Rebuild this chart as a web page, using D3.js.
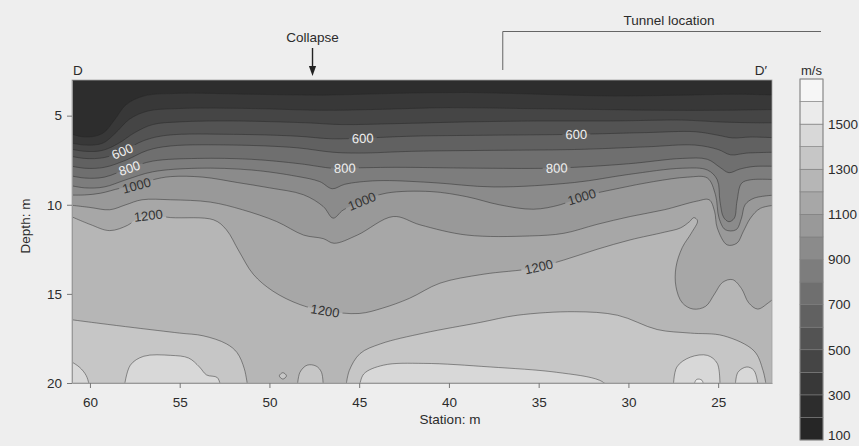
<!DOCTYPE html>
<html>
<head>
<meta charset="utf-8">
<script src="https://cdn.jsdelivr.net/npm/d3@7"></script>
<style>
  body { margin: 0; background: #eeeeee; }
  text { font-family: "Liberation Sans", Arial, sans-serif; fill: #2b2b2b; }
</style>
</head>
<body>
<div id="vis"></div>
<script>
const width = 859;
const height = 446;

// axes
const stationDomain = [61, 22];
const depthDomain = [3, 20];
const stationTicks = [60, 55, 50, 45, 40, 35, 30, 25];
const depthTicks = [5, 10, 15, 20];

// colour bar (m/s)
const barLevels = d3.range(100, 1700, 100);
const barTicks = [100, 300, 500, 700, 900, 1100, 1300, 1500];
const bandColors = ["#262626", "#2d2d2d", "#383838", "#454545", "#535353", "#616161", "#6f6f6f", "#7d7d7d",
                    "#8b8b8b", "#999999", "#a7a7a7", "#b6b6b6", "#c6c6c6", "#d8d8d8", "#ebebeb", "#f6f6f6"];

const c300 = [[61.4, 5.9], [60.3, 6.2], [59.3, 6.0], [58.6, 5.2], [58, 4.4], [57, 3.9], [55, 3.75], [51, 3.8], [47, 3.85], [43, 3.75], [39, 3.7], [35, 3.8], [31, 3.9], [27, 3.85], [24, 3.8], [21.6, 3.85]];
const c400 = [[61.4, 6.45], [60.3, 6.65], [59.3, 6.55], [58.6, 6.0], [57.8, 5.2], [56.8, 4.75], [55, 4.6], [51, 4.6], [47, 4.7], [44, 4.65], [40, 4.55], [36, 4.6], [32, 4.65], [28, 4.7], [25, 4.7], [21.6, 4.65]];
const c500 = [[61.4, 6.8], [60.3, 7.0], [59.3, 6.95], [58.4, 6.55], [57.5, 5.95], [56.5, 5.5], [55, 5.35], [52, 5.3], [48, 5.4], [46, 5.5], [43, 5.45], [39, 5.35], [35, 5.3], [31, 5.3], [27, 5.25], [25, 5.35], [23, 5.4], [21.6, 5.4]];
const c600 = [[61.4, 7.2], [60.3, 7.4], [59.2, 7.35], [58.2, 7.0], [57, 6.4], [55.7, 6.1], [52, 6.05], [48.5, 6.15], [46.5, 6.3], [44.8, 6.26], [42, 6.15], [38, 6.1], [33, 6.05], [29, 5.95], [26.3, 5.9], [25, 6.1], [24.2, 6.25], [23.2, 6.2], [21.6, 6.25]];
const c700 = [[61.4, 7.75], [60.3, 7.95], [59.2, 7.9], [58, 7.5], [56.8, 6.95], [55.5, 6.7], [52, 6.65], [48.5, 6.8], [46.5, 7.05], [45, 7.1], [42, 7.0], [38, 6.95], [33, 6.9], [29, 6.75], [26.3, 6.65], [25, 6.9], [24.3, 7.2], [23.4, 7.1], [21.6, 7.05]];
const c800 = [[61.4, 8.3], [60.3, 8.5], [59.2, 8.45], [57.8, 7.94], [56.5, 7.55], [54, 7.4], [51, 7.45], [48.3, 7.7], [46.5, 7.95], [45.8, 7.94], [43, 7.9], [38, 7.95], [34, 7.94], [30, 7.7], [27, 7.4], [25.6, 7.45], [24.9, 7.9], [24.4, 8.2], [23.8, 8.0], [23, 7.85], [21.6, 7.85]];
const c900 = [[61.4, 8.85], [60.3, 9.05], [59.2, 9.0], [58, 8.6], [56.5, 8.15], [54, 7.95], [51, 8.05], [48.5, 8.4], [47.2, 8.7], [46.5, 9.1], [45.8, 8.85], [44, 8.65], [41, 8.75], [37.5, 9.0], [33, 8.75], [30, 8.3], [27, 7.95], [25.6, 8.05], [25.05, 8.6], [24.9, 9.8], [24.7, 10.7], [24.4, 10.95], [24.1, 10.75], [23.95, 9.8], [23.7, 8.8], [23.2, 8.6], [21.6, 8.6]];
const c1000 = [[61.4, 9.45], [60.3, 9.45], [59.4, 9.35], [58.3, 9.07], [57.5, 8.95], [56.5, 8.6], [55.5, 8.42], [53.7, 8.45], [51.8, 8.75], [50, 9.05], [48.1, 9.44], [47.0, 10.1], [46.45, 10.75], [45.9, 10.3], [44.85, 9.8], [43.5, 9.35], [41, 9.26], [39, 9.55], [37.2, 10.0], [35.3, 10.25], [33.8, 10.0], [32.6, 9.55], [30.5, 9.07], [28.6, 8.7], [26.7, 8.45], [25.6, 8.5], [25.15, 9.44], [24.95, 10.75], [24.6, 11.4], [24.0, 11.4], [23.7, 10.75], [23.5, 10.0], [23.0, 9.63], [21.6, 9.44]];
const c1100 = [[61.4, 9.98], [60.0, 10.15], [58.9, 10.28], [58.0, 10.0], [57.1, 9.72], [55.5, 9.72], [53.3, 9.85], [51.5, 10.28], [49.6, 10.94], [48.1, 11.7], [47.0, 11.9], [46.4, 12.16], [45.1, 11.7], [43.1, 10.66], [41.6, 11.13], [39.0, 11.7], [35.5, 11.75], [33.6, 11.6], [31.75, 11.1], [29.9, 10.66], [28.0, 10.28], [26.2, 9.8], [25.5, 9.72], [25.2, 10.37], [25.05, 11.3], [24.5, 12.25], [23.95, 12.15], [23.6, 11.5], [23.2, 10.75], [22.65, 10.2], [21.6, 10.0]];
const c1200 = [[61.4, 10.5], [60.0, 11.1], [58.9, 11.45], [57.9, 11.15], [57.4, 10.8], [56.75, 10.6], [55.5, 10.72], [53.1, 10.85], [52.4, 11.4], [51.7, 12.6], [50.9, 13.9], [49.8, 14.85], [48.3, 15.6], [46.9, 15.95], [45.0, 16.1], [43.7, 15.8], [42.2, 15.25], [40.5, 14.4], [38.1, 13.9], [35.3, 13.56], [33.6, 13.1], [31.75, 12.5], [29.9, 11.97], [28.0, 11.54], [27.1, 11.3], [26.6, 10.95], [26.35, 10.72], [26.15, 10.9], [26.5, 11.6], [27.0, 12.4], [27.35, 13.5], [27.35, 14.6], [27.0, 15.5], [26.4, 15.85], [25.7, 15.7], [25.2, 15.0], [24.75, 14.35], [24.2, 14.2], [23.7, 14.7], [23.3, 15.5], [22.8, 15.85], [22.2, 15.5], [21.6, 15.0]];
const c1300_left = [[61.4, 16.4], [59.5, 16.65], [57.5, 16.9], [55, 17.2], [53.7, 17.35], [52.4, 17.8], [51.8, 18.3], [51.4, 19.2], [51.2, 20.3]];
const c1300_patch = [[48.45, 20.3], [48.3, 19.4], [47.9, 19.0], [47.4, 19.05], [47.1, 19.4], [47.0, 20.3]];
const c1300_spot = [[49.45, 19.6], [49.25, 19.42], [49.05, 19.6], [49.25, 19.78]];
const c1300_right = [[45.75, 20.3], [45.55, 19.3], [44.95, 18.35], [43.8, 17.8], [41.4, 17.2], [38.25, 16.6], [36.2, 16.2], [33, 16.0], [30.6, 16.2], [28.4, 17.0], [26.55, 17.2], [24.7, 17.35], [23.0, 18.2], [22.5, 19.3], [22.3, 20.3]];
const c1400_corner = [[61.4, 18.6], [60.6, 19.1], [60.2, 19.6], [60.0, 20.3]];
const c1400_a = [[58.1, 20.3], [57.75, 19.0], [57.0, 18.5], [55.5, 18.45], [54.5, 18.6], [53.9, 19.1], [53.5, 19.55], [52.9, 19.7], [52.7, 20.3]];
const c1400_b = [[45.0, 20.3], [44.75, 19.5], [43.65, 19.0], [41.4, 18.9], [37.7, 19.1], [34.0, 19.4], [31.6, 19.85], [31.0, 20.3]];
const c1400_c = [[27.5, 20.3], [27.3, 19.1], [26.55, 18.55], [25.6, 18.45], [25.05, 18.9], [24.9, 20.3]];
const c1400_d = [[24.05, 20.3], [23.9, 19.4], [23.4, 19.1], [23.0, 19.3], [22.75, 20.3]];
const c1500 = [[26.4, 20.3], [26.2, 19.8], [25.9, 19.85], [25.8, 20.3]];

// inline labels: [level, station]
const contourLabels = [[600, 58.2], [800, 57.8], [1000, 57.4], [1200, 56.75],
                       [600, 44.8], [800, 45.8], [1000, 44.85],
                       [600, 32.9], [800, 34.0], [1000, 32.6],
                       [1200, 46.9], [1200, 35.0]];

const collapseStation = 47.6;
const tunnelStart = 37;

window.onload = function () {
  svg = d3.select("#vis").append("svg")
    .attr("width", width)
    .attr("height", height);

  drawSection();
  drawAxes();
  drawColorBar();
  drawNotes();
};

const x = d3.scaleLinear().domain(stationDomain).range([72, 772]);
const y = d3.scaleLinear().domain(depthDomain).range([80, 383]);

const contours = [
  [300, c300], [400, c400], [500, c500], [600, c600], [700, c700], [800, c800],
  [900, c900], [1000, c1000], [1100, c1100], [1200, c1200],
  [1300, c1300_left], [1300, c1300_patch], [1300, c1300_right], [1300, c1300_spot, true],
  [1400, c1400_corner], [1400, c1400_a], [1400, c1400_b], [1400, c1400_c], [1400, c1400_d],
  [1500, c1500]
];

function bandColor(level) {
  return bandColors[(level - 100) / 100];
}

function depthAt(pts, s) {
  for (let i = 0; i < pts.length - 1; i++) {
    const a = pts[i], b = pts[i + 1];
    if ((s - a[0]) * (s - b[0]) <= 0) {
      const t = (s - a[0]) / (b[0] - a[0]);
      return a[1] + t * (b[1] - a[1]);
    }
  }
  return null;
}

function drawSection() {
  const line = d3.line().x(p => x(p[0])).y(p => y(p[1])).curve(d3.curveCatmullRom.alpha(0.5));
  const ring = d3.line().x(p => x(p[0])).y(p => y(p[1])).curve(d3.curveCatmullRomClosed.alpha(0.5));
  const below = y(21);

  const defs = svg.append("defs");
  defs.append("clipPath").attr("id", "plotClip")
    .append("rect")
    .attr("x", x.range()[0]).attr("y", y.range()[0])
    .attr("width", x.range()[1] - x.range()[0])
    .attr("height", y.range()[1] - y.range()[0]);

  const plot = svg.append("g").attr("clip-path", "url(#plotClip)");

  plot.append("rect")
    .attr("x", x.range()[0]).attr("y", y.range()[0])
    .attr("width", x.range()[1] - x.range()[0])
    .attr("height", y.range()[1] - y.range()[0])
    .attr("fill", bandColors[1]);

  // filled bands: each region >= level, painted low to high
  plot.selectAll("path.band").data(contours).enter().append("path")
    .attr("class", "band")
    .attr("d", function (c) {
      const pts = c[1];
      if (c[2]) return ring(pts);
      const first = pts[0], last = pts[pts.length - 1];
      return line(pts) + "L" + x(last[0]) + "," + below + "L" + x(first[0]) + "," + below + "Z";
    })
    .attr("fill", c => bandColor(c[0]));

  // label gaps in the lines
  const mask = defs.append("mask").attr("id", "labelGaps")
    .attr("maskUnits", "userSpaceOnUse")
    .attr("x", 0).attr("y", 0).attr("width", width).attr("height", height);
  mask.append("rect").attr("width", width).attr("height", height).attr("fill", "white");

  const labels = contourLabels.map(function (l) {
    const pts = contours.find(c => c[0] === l[0])[1];
    const d0 = depthAt(pts, l[1] + 0.6), d1 = depthAt(pts, l[1] - 0.6);
    const angle = Math.atan2(y(d1) - y(d0), x(l[1] - 0.6) - x(l[1] + 0.6)) * 180 / Math.PI;
    return { level: l[0], px: x(l[1]), py: y(depthAt(pts, l[1])), angle: angle };
  });

  mask.selectAll("rect.gap").data(labels).enter().append("rect")
    .attr("class", "gap")
    .attr("x", d => -(String(d.level).length * 7.3 + 6) / 2)
    .attr("y", -6.5)
    .attr("width", d => String(d.level).length * 7.3 + 6)
    .attr("height", 13)
    .attr("fill", "black")
    .attr("transform", d => "translate(" + d.px + "," + d.py + ") rotate(" + d.angle + ")");

  plot.append("g").attr("mask", "url(#labelGaps)")
    .selectAll("path").data(contours).enter().append("path")
    .attr("d", c => c[2] ? ring(c[1]) : line(c[1]))
    .attr("fill", "none")
    .attr("stroke", "#262626")
    .attr("stroke-opacity", 0.5)
    .attr("stroke-width", 0.9);

  plot.selectAll("text.clabel").data(labels).enter().append("text")
    .attr("class", "clabel")
    .attr("transform", d => "translate(" + d.px + "," + d.py + ") rotate(" + d.angle + ")")
    .attr("text-anchor", "middle")
    .attr("dy", "0.36em")
    .attr("font-size", 13)
    .style("fill", d => d.level <= 800 ? "#eeeeee" : "#333333")
    .text(d => d.level);

  svg.append("rect")
    .attr("x", x.range()[0]).attr("y", y.range()[0])
    .attr("width", x.range()[1] - x.range()[0])
    .attr("height", y.range()[1] - y.range()[0])
    .attr("fill", "none")
    .attr("stroke", "#a0a0a0")
    .attr("stroke-width", 0.8);
}

function drawAxes() {
  const xAxis = svg.append("g")
    .attr("transform", "translate(0," + y.range()[1] + ")")
    .call(d3.axisBottom(x).tickValues(stationTicks).tickSize(5).tickSizeOuter(0).tickPadding(9));
  const yAxis = svg.append("g")
    .attr("transform", "translate(" + x.range()[0] + ",0)")
    .call(d3.axisLeft(y).tickValues(depthTicks).tickSize(5).tickSizeOuter(0).tickPadding(5));

  [xAxis, yAxis].forEach(function (g) {
    g.attr("font-size", 13.5);
    g.select(".domain").attr("stroke", "#999999");
    g.selectAll(".tick line").attr("stroke", "#777777");
    g.selectAll(".tick text").style("fill", "#2b2b2b");
  });

  svg.append("text")
    .attr("x", 450).attr("y", 424)
    .attr("text-anchor", "middle")
    .attr("font-size", 13.5)
    .text("Station: m");

  svg.append("text")
    .attr("transform", "translate(30,226) rotate(-90)")
    .attr("text-anchor", "middle")
    .attr("font-size", 13.5)
    .text("Depth: m");
}

function drawColorBar() {
  const barX = 800, barW = 23;
  const yc = d3.scaleLinear().domain([100, 1700]).range([440, 79]);

  const bar = svg.append("g");
  bar.selectAll("rect").data(barLevels).enter().append("rect")
    .attr("x", barX)
    .attr("y", v => yc(v + 100))
    .attr("width", barW)
    .attr("height", v => yc(v) - yc(v + 100))
    .attr("fill", v => bandColor(v))
    .attr("stroke", "#7a7a7a")
    .attr("stroke-width", 0.6);

  bar.append("rect")
    .attr("x", barX).attr("y", yc(1700))
    .attr("width", barW).attr("height", yc(100) - yc(1700))
    .attr("fill", "none")
    .attr("stroke", "#888888")
    .attr("stroke-width", 0.8);

  // the lowest label sits a little up so it stays inside the page
  bar.selectAll("text").data(barTicks).enter().append("text")
    .attr("x", barX + barW + 5)
    .attr("y", v => Math.min(yc(v), 435))
    .attr("dy", "0.36em")
    .attr("font-size", 13.5)
    .text(v => v);

  svg.append("text")
    .attr("x", barX + barW / 2).attr("y", 75)
    .attr("text-anchor", "middle")
    .attr("font-size", 13)
    .text("m/s");
}

function drawNotes() {
  svg.append("text")
    .attr("x", x.range()[0] + 1).attr("y", 75)
    .attr("font-size", 13.5)
    .text("D");
  svg.append("text")
    .attr("x", x.range()[1] - 5).attr("y", 75)
    .attr("text-anchor", "end")
    .attr("font-size", 13.5)
    .text("D\u2032");

  // collapse arrow
  const cx = x(collapseStation);
  svg.append("text")
    .attr("x", cx).attr("y", 42)
    .attr("text-anchor", "middle")
    .attr("font-size", 13.5)
    .text("Collapse");
  svg.append("line")
    .attr("x1", cx).attr("x2", cx)
    .attr("y1", 48).attr("y2", 68)
    .attr("stroke", "#222222")
    .attr("stroke-width", 1.4);
  svg.append("path")
    .attr("d", "M" + (cx - 3.6) + ",66L" + (cx + 3.6) + ",66L" + cx + ",76Z")
    .attr("fill", "#222222");

  // tunnel bracket
  const tx = x(tunnelStart);
  svg.append("path")
    .attr("d", "M" + tx + ",70V31.5H821")
    .attr("fill", "none")
    .attr("stroke", "#555555")
    .attr("stroke-width", 0.9);
  svg.append("text")
    .attr("x", 669).attr("y", 25)
    .attr("text-anchor", "middle")
    .attr("font-size", 13.5)
    .text("Tunnel location");
}
</script>
</body>
</html>
